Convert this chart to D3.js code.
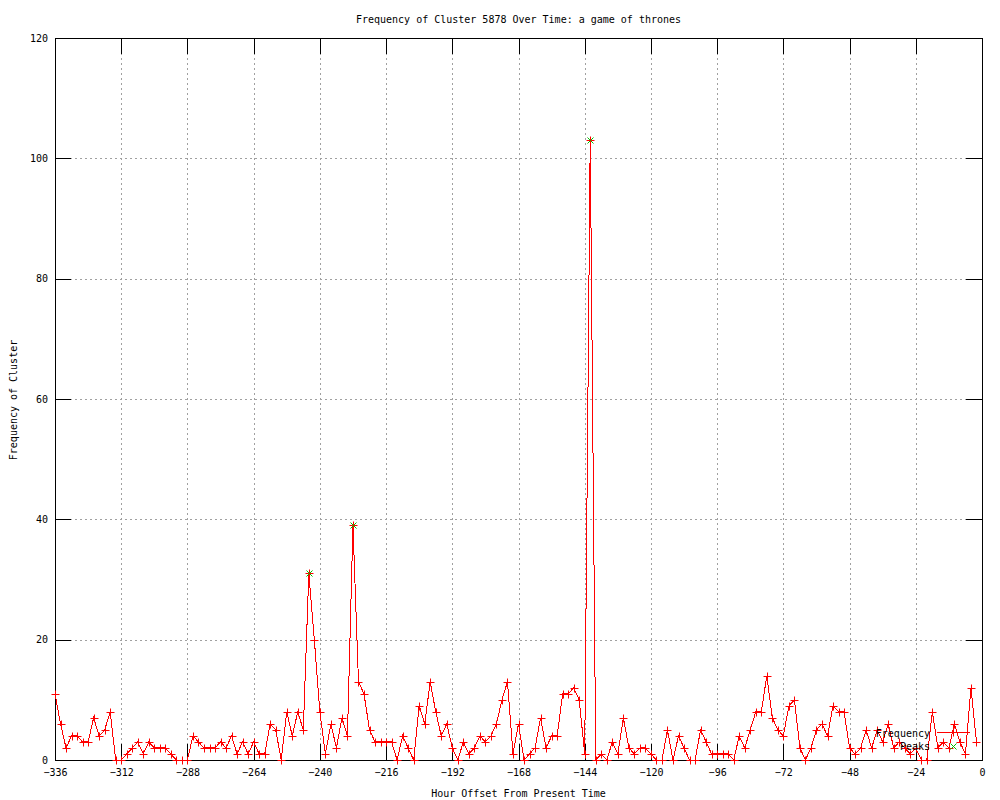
<!DOCTYPE html>
<html>
<head>
<meta charset="utf-8">
<script src="https://cdn.jsdelivr.net/npm/d3@7"></script>
<style>
  body { margin: 0; background: #fff; }
  text { font-family: "DejaVu Sans Mono", "Liberation Mono", monospace; font-size: 10px; fill: #000; }
  .grid line { stroke: #a0a0a0; stroke-dasharray: 2,3; }
  .grid path { display: none; }
  .axis path { display: none; }
  .axis line { stroke: #000; }
</style>
</head>
<body>
<div id="chart"></div>
<script>
var hours = [
  -336,-334,-332,-330,-328,-326,-324,-322,-320,-318,-316,-314,-312,-310,-308,-306,-304,-302,-300,-298,
  -296,-294,-292,-290,-288,-286,-284,-282,-280,-278,-276,-274,-272,-270,-268,-266,-264,-262,-260,-258,
  -256,-254,-252,-250,-248,-246,-244,-242,-240,-238,-236,-234,-232,-230,-228,-226,-224,-222,-220,-218,
  -216,-214,-212,-210,-208,-206,-204,-202,-200,-198,-196,-194,-192,-190,-188,-186,-184,-182,-180,-178,
  -176,-174,-172,-170,-168,-166,-164,-162,-160,-158,-156,-154,-152,-150,-148,-146,-144,-142,-140,-138,
  -136,-134,-132,-130,-128,-126,-124,-122,-120,-118,-116,-114,-112,-110,-108,-106,-104,-102,-100,-98,
  -96,-94,-92,-90,-88,-86,-84,-82,-80,-78,-76,-74,-72,-70,-68,-66,-64,-62,-60,-58,
  -56,-54,-52,-50,-48,-46,-44,-42,-40,-38,-36,-34,-32,-30,-28,-26,-24,-22,-20,-18,
  -16,-14,-12,-10,-8,-6,-4,-2
]
var frequency = [
  11,6,2,4,4,3,3,7,4,5,8,0,0,1,2,3,1,3,2,2,
  2,1,0,0,0,4,3,2,2,2,3,2,4,1,3,1,3,1,1,6,
  5,0,8,4,8,5,31,20,8,1,6,2,7,4,39,13,11,5,3,3,
  3,3,0,4,2,0,9,6,13,8,4,6,2,0,3,1,2,4,3,4,
  6,10,13,1,6,0,1,2,7,2,4,4,11,11,12,10,1,103,0,1,
  0,3,1,7,2,1,2,2,1,0,0,5,0,4,2,0,0,5,3,1,
  1,1,1,0,4,2,5,8,8,14,7,5,4,9,10,2,0,2,5,6,
  4,9,8,8,2,1,2,5,2,5,3,6,2,3,2,1,2,0,0,8,
  2,3,2,6,3,1,12,3
]
var peakHours = [-244, -228, -142]
var peakValues = [31, 39, 103]

var xTicks = [-336,-312,-288,-264,-240,-216,-192,-168,-144,-120,-96,-72,-48,-24,0]
var yTicks = [0,20,40,60,80,100,120]

var title = "Frequency of Cluster 5878 Over Time: a game of thrones"
var xLabel = "Hour Offset From Present Time"
var yLabel = "Frequency of Cluster"

var margin = {top: 38, right: 18, bottom: 40, left: 55}
  ,width  = 1000 - margin.left - margin.right
  ,height = 800 - margin.top - margin.bottom

var data = hours.map(function(h, i) { return {x: h, y: frequency[i]} })
var peaks = peakHours.map(function(h, i) { return {x: h, y: peakValues[i]} })

var x = d3.scaleLinear().domain([-336, 0]).range([0, width])
var y = d3.scaleLinear().domain([0, 120]).range([height, 0])

// snap a point to the pixel centre so 1px marks stay sharp
function at(d) {
  return 'translate(' + (Math.round(x(d.x)) + 0.5) + ',' + (Math.round(y(d.y)) + 0.5) + ')'
}

var svg = d3.select('#chart')
  .append('svg')
  .attr('width', 1000)
  .attr('height', 800)

var chart = svg.append('g')
  .attr('transform', 'translate(' + margin.left + ',' + margin.top + ')')

// gridlines
chart.append('g')
  .attr('class', 'grid')
  .attr('transform', 'translate(0,' + height + ')')
  .attr('shape-rendering', 'crispEdges')
  .call(d3.axisBottom(x).tickValues(xTicks.slice(1, -1)).tickSize(-height).tickFormat(''))

chart.append('g')
  .attr('class', 'grid')
  .attr('shape-rendering', 'crispEdges')
  .call(d3.axisLeft(y).tickValues(yTicks.slice(1, -1)).tickSize(-width).tickFormat(''))

// tics, mirrored on all four sides
chart.append('g')
  .attr('class', 'axis')
  .attr('transform', 'translate(0,' + height + ')')
  .attr('shape-rendering', 'crispEdges')
  .call(d3.axisBottom(x).tickValues(xTicks).tickSize(-16).tickSizeOuter(0).tickPadding(9)
    .tickFormat(d3.format('d')))

chart.append('g')
  .attr('class', 'axis')
  .attr('shape-rendering', 'crispEdges')
  .call(d3.axisTop(x).tickValues(xTicks).tickSize(-16).tickSizeOuter(0).tickFormat(''))

chart.append('g')
  .attr('class', 'axis')
  .attr('shape-rendering', 'crispEdges')
  .call(d3.axisLeft(y).tickValues(yTicks).tickSize(-16).tickSizeOuter(0).tickPadding(7))

chart.append('g')
  .attr('class', 'axis')
  .attr('transform', 'translate(' + width + ',0)')
  .attr('shape-rendering', 'crispEdges')
  .call(d3.axisRight(y).tickValues(yTicks).tickSize(-16).tickSizeOuter(0).tickFormat(''))

svg.selectAll('.axis').attr('font-family', null).attr('font-size', null)

// border
chart.append('rect')
  .attr('width', width)
  .attr('height', height)
  .attr('fill', 'none')
  .attr('stroke', '#000')
  .attr('shape-rendering', 'crispEdges')

// frequency line + points
var line = d3.line()
  .x(function(d) { return x(d.x) })
  .y(function(d) { return y(d.y) })

chart.append('path')
  .datum(data)
  .attr('d', line)
  .attr('fill', 'none')
  .attr('stroke', '#ff0000')
  .attr('stroke-width', 1)
  .attr('shape-rendering', 'crispEdges')

var plus = 'M-4,0H4M0,-4V4'
var cross = 'M-3,-3L3,3M-3,3L3,-3'

chart.selectAll('.pt')
  .data(data)
  .enter().append('path')
    .attr('class', 'pt')
    .attr('d', plus)
    .attr('transform', at)
    .attr('stroke', '#ff0000')
    .attr('fill', 'none')

chart.selectAll('.peak')
  .data(peaks)
  .enter().append('path')
    .attr('class', 'peak')
    .attr('d', cross)
    .attr('transform', at)
    .attr('stroke', '#00c000')
    .attr('fill', 'none')

// key
var key = svg.append('g')
key.append('text').attr('x', 930).attr('y', 733).attr('dy', '0.35em')
  .attr('text-anchor', 'end').text('Frequency')
key.append('line').attr('x1', 937).attr('x2', 970).attr('y1', 732.5).attr('y2', 732.5)
  .attr('stroke', '#ff0000')
key.append('path').attr('d', plus).attr('transform', 'translate(953.5,732.5)')
  .attr('stroke', '#ff0000')
key.append('text').attr('x', 930).attr('y', 746).attr('dy', '0.35em')
  .attr('text-anchor', 'end').text('Peaks')
key.append('path').attr('d', cross).attr('transform', 'translate(953.5,746.5)')
  .attr('stroke', '#00c000')

// titles
svg.append('text')
  .attr('x', margin.left + width / 2).attr('y', 19).attr('dy', '0.35em')
  .attr('text-anchor', 'middle').text(title)

svg.append('text')
  .attr('x', margin.left + width / 2).attr('y', 793).attr('dy', '0.35em')
  .attr('text-anchor', 'middle').text(xLabel)

svg.append('text')
  .attr('transform', 'translate(13,400) rotate(-90)')
  .attr('dy', '0.35em')
  .attr('text-anchor', 'middle').text(yLabel)
</script>
</body>
</html>
